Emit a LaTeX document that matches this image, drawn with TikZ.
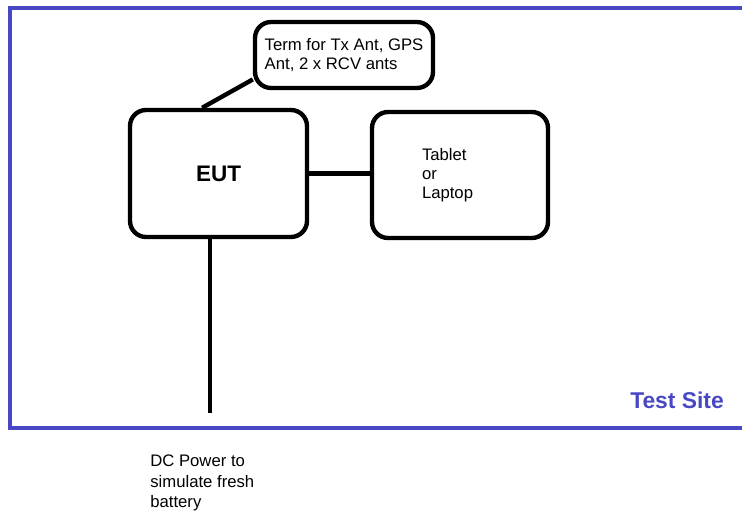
\documentclass[tikz,border=0pt]{standalone}
\usepackage{fontspec}
\setmainfont{Liberation Sans}
\usetikzlibrary{positioning,calc}
\definecolor{siteblue}{RGB}{72,72,196}
\tikzset{
  box/.style={draw=black, line width=2.5pt, rounded corners=0.32cm, align=left,
              inner sep=0pt, font=\fontsize{9.5}{10.5}\selectfont},
  wire/.style={black, line width=2.5pt},
  frame/.style={siteblue, line width=2.4pt},
  note/.style={align=left, inner sep=0pt, font=\fontsize{9.5}{11.5}\selectfont},
}

\begin{document}
\begin{tikzpicture}[x=0.02cm, y=-0.02cm]
        \useasboundingbox (0,0) rectangle (742,513);
        \draw[frame] (760,8) -- (10,8) -- (10,428) -- (760,428);
        \node[siteblue, font=\bfseries\fontsize{13}{15}\selectfont] (site) at (677,400) {Test Site};
        % boxes
        \node[box, minimum width=3.56cm, minimum height=1.32cm] (term) at (344,55)
          {Term for Tx Ant, GPS\\Ant, 2 x RCV ants};
        \node[box, minimum width=3.54cm, minimum height=2.54cm,
              font=\bfseries\fontsize{12.8}{15}\selectfont] (eut) at (218.5,173.5) {EUT};
        \node[box, minimum width=3.52cm, minimum height=2.52cm, text width=1.52cm,
              font=\fontsize{9.5}{10.8}\selectfont] (tab) at (460,175) {Tablet\\or\\Laptop};
        \coordinate (dcend) at (210,413);
        \node[note, anchor=west] (dc) at (150,483) {DC Power to\\simulate fresh\\battery};
        % connections
        \draw[wire] (term.195) -- (eut.104);
        \draw[wire] (eut.east) -- (eut.east -| tab.west);
        \draw[wire] (eut.south -| dcend) -- (dcend);
      \end{tikzpicture}
\end{document}
